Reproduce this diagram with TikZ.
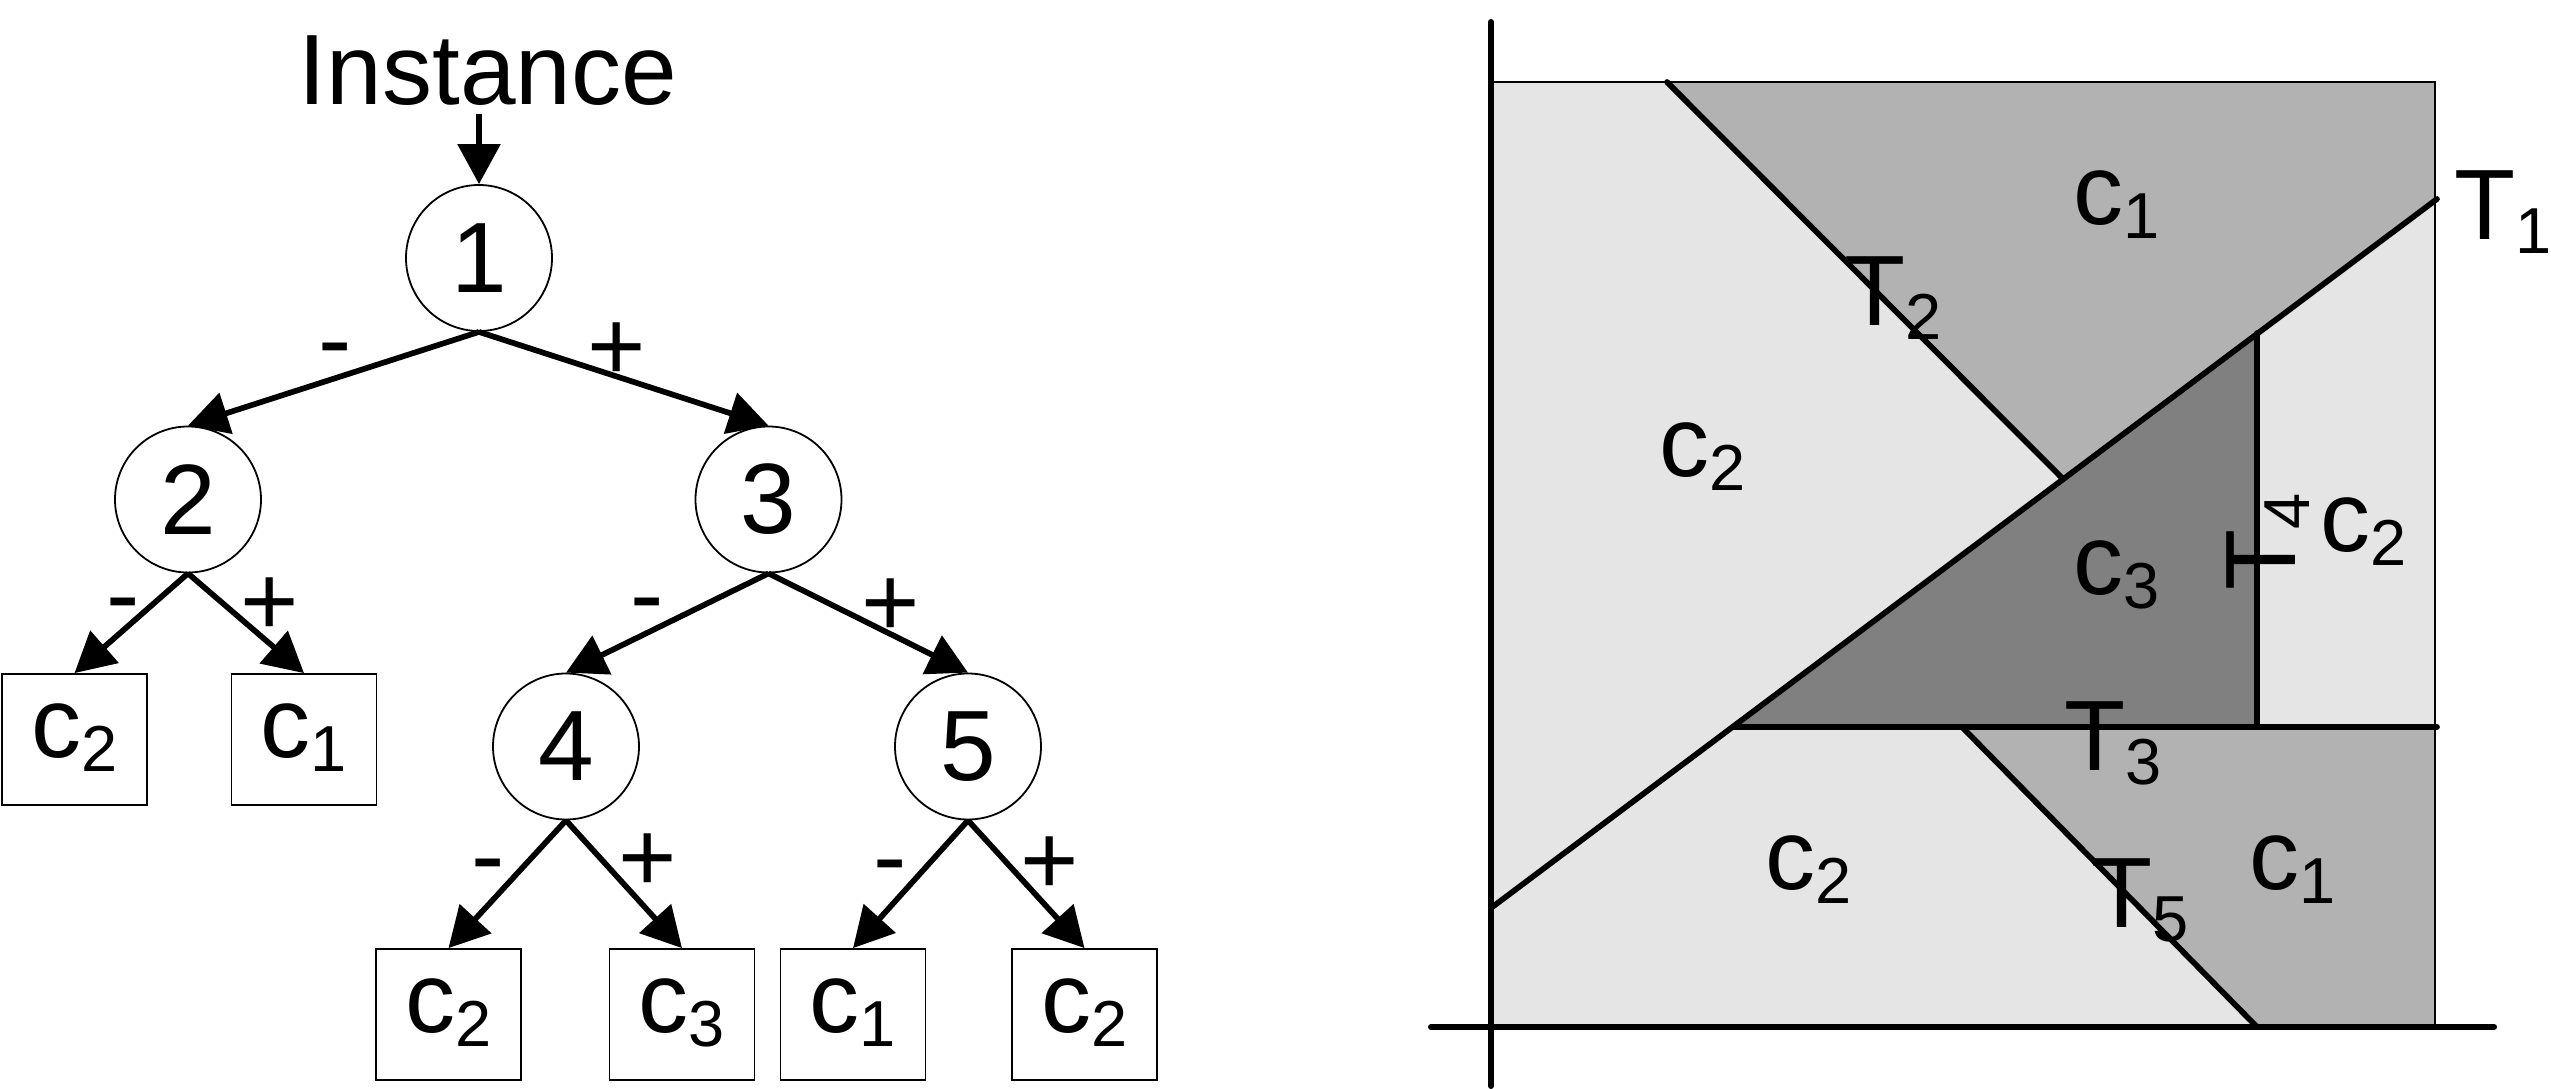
\documentclass[tikz,border=0pt]{standalone}
\usepackage{fontspec}
\setmainfont{Liberation Sans}
\usetikzlibrary{arrows.meta}
\newcommand{\lsub}[2]{#1\raisebox{-14pt}{\fontsize{65}{65}\selectfont #2}}
\definecolor{lightg}{gray}{0.9}
\definecolor{midg}{gray}{0.7}
\definecolor{darkg}{gray}{0.5}
\begin{document}
\begin{tikzpicture}[x=1pt,y=-1pt,
  big/.style={font=\fontsize{100}{120}\selectfont, inner sep=0pt},
  tnode/.style={big, circle, draw, line width=1.8pt, minimum size=146pt},
  leaf/.style={big, rectangle, draw, line width=1.8pt, minimum width=145pt, minimum height=131pt, text height=55pt, text depth=20pt},
  tedge/.style={line width=5.7pt, -{Triangle[length=40pt,width=42pt]}},
  sgn/.style={big, anchor=base},
  lab/.style={big, anchor=base west},
  cut/.style={line width=5.7pt, line cap=round},
  axis/.style={line width=6pt, line cap=round},
  frame/.style={line width=1.8pt}
]
\useasboundingbox (0,0) rectangle (2551,1089);

% ---------- tree ----------
\node[big, anchor=base] (inst) at (488,105) {Instance};
\node[tnode] (n1) at (479,258) {1};
\node[tnode] (n2) at (188,499.5) {2};
\node[tnode] (n3) at (768.5,499.5) {3};
\node[tnode] (n4) at (566,746.5) {4};
\node[tnode] (n5) at (968,746.5) {5};

\node[leaf] (l1) at (74.5,739.5) {\lsub{c}{2}};
\node[leaf] (l2) at (304,739.5) {\lsub{c}{1}};
\node[leaf] (l3) at (448.5,1014.5) {\lsub{c}{2}};
\node[leaf] (l4) at (682,1014.5) {\lsub{c}{3}};
\node[leaf] (l5) at (853,1014.5) {\lsub{c}{1}};
\node[leaf] (l6) at (1084.5,1014.5) {\lsub{c}{2}};

\coordinate (ia) at (479,114);
\draw[tedge] (ia) -- (n1.north);
\draw[tedge] (n1.south) -- (n2.north);
\draw[tedge] (n1.south) -- (n3.north);
\draw[tedge] (n2.south) -- (l1.north);
\draw[tedge] (n2.south) -- (l2.north);
\draw[tedge] (n3.south) -- (n4.north);
\draw[tedge] (n3.south) -- (n5.north);
\draw[tedge] (n4.south) -- (l3.north);
\draw[tedge] (n4.south) -- (l4.north);
\draw[tedge] (n5.south) -- (l5.north);
\draw[tedge] (n5.south) -- (l6.north);

\node[sgn] (s12) at (335,373) {-};
\node[sgn] (s13) at (617,380) {+};
\node[sgn] (s2a) at (123,628) {-};
\node[sgn] (s2b) at (270,635) {+};
\node[sgn] (s34) at (647,628) {-};
\node[sgn] (s35) at (891,636) {+};
\node[sgn] (s4a) at (488,889) {-};
\node[sgn] (s4b) at (648,891) {+};
\node[sgn] (s5a) at (890,890) {-};
\node[sgn] (s5b) at (1050,894) {+};

% ---------- partition ----------
\fill[lightg] (1491,82) rectangle (2435,1027);
\fill[midg] (1667,82) -- (2435,82) -- (2435,200.5) -- (2062,478) -- cycle;
\fill[midg] (1962,727) -- (2435,727) -- (2435,1027) -- (2257,1027) -- cycle;
\fill[darkg] (1733,727) -- (2257,333) -- (2257,727) -- cycle;
\draw[frame] (1491,82) -- (2435,82) -- (2435,1027);

\draw[cut] (1491,908) -- (2437,199);
\draw[cut] (1667,82) -- (2062,478);
\draw[cut] (1733,727) -- (2437,727);
\draw[cut] (2257,333) -- (2257,727);
\draw[cut] (1962,727) -- (2257,1027);

\draw[axis] (1491,22) -- (1491,1086);
\draw[axis] (1431,1027) -- (2494,1027);

\node[lab] (t1) at (2454,239) {\lsub{T}{1}};
\node[lab] (t2) at (1844,325) {\lsub{T}{2}};
\node[lab] (t3) at (2064,770) {\lsub{T}{3}};
\node[lab] (t5) at (2091,927) {\lsub{T}{5}};
\node[lab, rotate=90] (t4) at (2295,591) {\lsub{T}{4}};

\node[lab] (r1) at (2073,224) {\lsub{c}{1}};
\node[lab] (r2) at (1659,476) {\lsub{c}{2}};
\node[lab] (r3) at (2073,594) {\lsub{c}{3}};
\node[lab] (r4) at (2320,551) {\lsub{c}{2}};
\node[lab] (r5) at (1765,889) {\lsub{c}{2}};
\node[lab] (r6) at (2249,889) {\lsub{c}{1}};
\end{tikzpicture}
\end{document}
